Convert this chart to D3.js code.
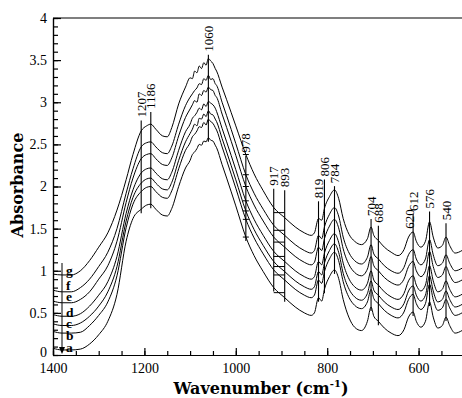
<!DOCTYPE html>
<html><head><meta charset="utf-8">
<script src="https://cdn.jsdelivr.net/npm/d3@7"></script>
<style>
html,body{margin:0;padding:0;background:#fff;}
svg{display:block;}
</style></head>
<body>
<svg id="chart" width="462" height="398"></svg>
<script>
// ---- data ----
const wavenumbers = [1400,1380,1360,1340,1320,1300,1280,1260,1240,1225,1207,1195,1186,1175,1160,1150,1140,1125,
  1110,1100,1095,1090,1085,1080,1075,1070,1065,1060,1055,1050,1045,1042,
  1030,1020,1000,978,960,940,917,893,870,850,835,828,819,812,806,795,784,775,765,752,740,725,712,704,698,688,675,660,645,632,622,612,605,595,585,576,568,558,548,540,532,520,505];
const seriesNames = ["a","b","c","d","e","f","g"];
const seriesA = [.08,.06,.06,.07,.13,.24,.40,.72,1.35,1.62,1.73,1.78,1.79,1.73,1.66,1.65,1.74,2.00,
  2.22,2.31,2.38,2.41,2.45,2.50,2.49,2.54,2.53,2.58,2.55,2.54,2.49,2.46,
  2.26,2.10,1.77,1.40,1.18,.99,.80,.68,.57,.50,.47,.50,.68,.64,.78,.93,1.01,.91,.66,.44,.33,.29,.40,.57,.46,.40,.32,.26,.23,.30,.45,.51,.40,.33,.40,.63,.45,.32,.35,.45,.35,.26,.29];
const seriesB = [.28,.26,.26,.27,.35,.47,.63,.94,1.51,1.79,1.94,1.99,2.00,1.94,1.87,1.86,1.95,2.21,
  2.43,2.52,2.59,2.62,2.66,2.71,2.70,2.76,2.73,2.80,2.77,2.75,2.70,2.67,
  2.47,2.31,1.98,1.61,1.39,1.20,1.01,.89,.78,.71,.68,.71,.89,.85,.99,1.14,1.22,1.12,.87,.68,.59,.55,.63,.78,.67,.61,.53,.47,.44,.51,.66,.72,.61,.54,.61,.84,.66,.53,.56,.66,.56,.47,.50];
const seriesC = [.37,.35,.35,.38,.46,.58,.75,1.05,1.59,1.87,2.04,2.09,2.10,2.04,1.97,1.96,2.05,2.31,
  2.53,2.63,2.68,2.74,2.72,2.81,2.80,2.86,2.83,2.90,2.86,2.85,2.80,2.77,
  2.57,2.41,2.08,1.71,1.49,1.30,1.11,.99,.88,.81,.78,.81,.99,.95,1.09,1.24,1.32,1.22,.97,.78,.69,.65,.73,.88,.77,.71,.63,.57,.54,.61,.76,.82,.71,.64,.71,.94,.76,.63,.66,.76,.66,.57,.60];
const seriesD = [.48,.46,.46,.49,.58,.71,.87,1.17,1.68,1.96,2.16,2.21,2.22,2.16,2.09,2.08,2.17,2.43,
  2.65,2.74,2.81,2.84,2.88,2.93,2.91,2.98,2.95,3.01,2.99,2.97,2.93,2.89,
  2.69,2.53,2.20,1.83,1.61,1.42,1.23,1.11,1.00,.93,.90,.93,1.11,1.07,1.21,1.36,1.44,1.34,1.09,.90,.81,.77,.85,1.00,.89,.83,.75,.69,.66,.73,.88,.94,.83,.76,.83,1.06,.88,.75,.78,.88,.78,.69,.72];
const seriesE = [.64,.62,.62,.66,.75,.90,1.06,1.35,1.81,2.10,2.33,2.38,2.39,2.33,2.26,2.25,2.34,2.60,
  2.82,2.92,2.97,3.02,3.00,3.10,3.08,3.14,3.12,3.18,3.15,3.14,3.08,3.06,
  2.86,2.70,2.37,2.00,1.78,1.59,1.40,1.28,1.17,1.10,1.07,1.10,1.28,1.24,1.38,1.53,1.61,1.51,1.26,1.07,.98,.94,1.02,1.17,1.06,1.00,.92,.86,.83,.90,1.05,1.11,1.00,.93,1.00,1.23,1.05,.92,.95,1.05,.95,.86,.89];
const seriesF = [.77,.75,.75,.80,.90,1.05,1.22,1.50,1.92,2.21,2.47,2.52,2.53,2.47,2.40,2.39,2.48,2.74,
  2.96,3.06,3.10,3.14,3.17,3.22,3.21,3.28,3.26,3.32,3.27,3.28,3.22,3.20,
  3.00,2.84,2.51,2.14,1.92,1.73,1.54,1.42,1.31,1.24,1.21,1.24,1.42,1.38,1.52,1.67,1.75,1.65,1.40,1.21,1.12,1.08,1.16,1.31,1.20,1.14,1.06,1.00,.97,1.04,1.19,1.25,1.14,1.07,1.14,1.37,1.19,1.06,1.09,1.19,1.09,1.00,1.03];
const seriesG = [.96,.95,.95,1.00,1.12,1.28,1.45,1.72,2.08,2.38,2.66,2.72,2.74,2.68,2.60,2.59,2.70,2.98,
  3.18,3.29,3.28,3.37,3.35,3.43,3.40,3.47,3.44,3.52,3.49,3.46,3.40,3.37,
  3.18,3.03,2.72,2.38,2.15,1.95,1.75,1.63,1.52,1.45,1.42,1.45,1.62,1.60,1.74,1.88,1.96,1.86,1.62,1.43,1.35,1.31,1.38,1.52,1.42,1.36,1.28,1.22,1.18,1.25,1.40,1.46,1.35,1.28,1.35,1.58,1.40,1.27,1.30,1.40,1.30,1.21,1.24];
const peakLabels = [1207,1186,1060,978,917,893,819,806,784,704,688,620,612,576,540];
const xTickLabels = [1400,1200,1000,800,600];
const yTickLabels = [0,0.5,1,1.5,2,2.5,3,3.5,4];

// ---- annotation layout ----
const peakLabelLevel = {1207:2.82,1186:2.92,1060:3.60,978:2.40,917:2.01,893:1.99,819:1.86,806:2.12,784:2.04,704:1.65,688:1.57,620:1.50,612:1.71,576:1.74,540:1.60};
const letterBaseline = {a:352,b:340,c:328,d:317,e:301,f:290,g:275};

const allSeries = [seriesA,seriesB,seriesC,seriesD,seriesE,seriesF,seriesG];

const svg = d3.select("#chart");
const L = 53, R = 462, T = 18, B = 355;
const x = d3.scaleLinear().domain([1400, 505]).range([L, R]);
const y = d3.scaleLinear().domain([0, 4]).range([B, T]);

const serif = "'Liberation Serif','Times New Roman',serif";
const serifWide = "'DejaVu Serif',serif";

const xMinor = d3.range(1400, 504, -50);
const yMinor = d3.range(0, 4.001, 0.1).map(v => +v.toFixed(1));

const gx = svg.append("g").attr("transform", `translate(0,${B})`);
gx.call(d3.axisBottom(x).tickValues(xMinor).tickSize(-4).tickSizeOuter(0).tickFormat(""));
gx.append("g").call(d3.axisBottom(x).tickValues(xTickLabels).tickSize(-7).tickSizeOuter(0).tickPadding(8).tickFormat(d3.format("d")));
gx.selectAll("text").attr("font-family", serif).attr("font-size", 14).attr("fill", "#000");
gx.selectAll("path,line").attr("stroke", "#000").attr("stroke-width", 1.2);

const gy = svg.append("g").attr("transform", `translate(${L},0)`);
gy.call(d3.axisLeft(y).tickValues(yMinor).tickSize(-5).tickSizeOuter(0).tickFormat(""));
gy.append("g").call(d3.axisLeft(y).tickValues(yTickLabels).tickSize(-8).tickSizeOuter(0).tickPadding(6).tickFormat(d => String(d)));
gy.selectAll("text").attr("font-family", serif).attr("font-size", 14).attr("fill", "#000");
gy.selectAll("text").filter(d => d === 0).attr("dy", "0.1em");
gy.selectAll("path,line").attr("stroke", "#000").attr("stroke-width", 1.2);

svg.append("line").attr("x1", L).attr("x2", R).attr("y1", y(4)).attr("y2", y(4))
  .attr("stroke", "#000").attr("stroke-width", 1.2);

const line = d3.line().x((d, i) => x(wavenumbers[i])).y(d => y(d)).curve(d3.curveMonotoneX);
svg.append("g").selectAll("path").data(allSeries).join("path")
  .attr("d", line).attr("fill", "none").attr("stroke", "#000").attr("stroke-width", 1);

function valueAt(series, w) {
  for (let i = 0; i < wavenumbers.length - 1; i++) {
    const w0 = wavenumbers[i], w1 = wavenumbers[i + 1];
    if (w <= w0 && w >= w1) {
      const t = (w0 - w) / (w0 - w1);
      return series[i] + t * (series[i + 1] - series[i]);
    }
  }
  return series[series.length - 1];
}

const gp = svg.append("g");
peakLabels.forEach(w => {
  const lvl = peakLabelLevel[w];
  const bottom = valueAt(seriesA, w);
  if (w !== 620) {
    gp.append("line").attr("x1", x(w)).attr("x2", x(w))
      .attr("y1", y(lvl) + 3).attr("y2", y(bottom) + 4)
      .attr("stroke", "#000").attr("stroke-width", 1.1);
  }
  gp.append("text")
    .attr("transform", `translate(${x(w)},${y(lvl)}) rotate(-90)`)
    .attr("dy", "0.35em")
    .attr("font-family", serif).attr("font-size", 13).attr("fill", "#000")
    .text(w);
});
allSeries.forEach(s => {
  const v = (valueAt(s, 917) + valueAt(s, 893)) / 2;
  gp.append("line").attr("x1", x(917)).attr("x2", x(893)).attr("y1", y(v)).attr("y2", y(v))
    .attr("stroke", "#000").attr("stroke-width", 1);
  const v2 = valueAt(s, 978);
  gp.append("line").attr("x1", x(978) - 3).attr("x2", x(978) + 3).attr("y1", y(v2)).attr("y2", y(v2))
    .attr("stroke", "#000").attr("stroke-width", 1);
});

const gl = svg.append("g");
seriesNames.forEach(n => {
  gl.append("text").attr("x", 66).attr("y", letterBaseline[n])
    .attr("font-family", serif).attr("font-size", 13.5).attr("font-weight", "bold").attr("fill", "#000")
    .text(n);
});
svg.append("line").attr("x1", 62).attr("x2", 62).attr("y1", 263).attr("y2", 350)
  .attr("stroke", "#000").attr("stroke-width", 1);
svg.append("path").attr("d", "M59,347 L65,347 L62,354 Z").attr("fill", "#000");

const xt = svg.append("text").attr("x", 261).attr("y", 394).attr("text-anchor", "middle")
  .attr("font-family", serifWide).attr("font-size", 16).attr("font-weight", "bold").attr("fill", "#000");
xt.append("tspan").text("Wavenumber (cm");
xt.append("tspan").attr("dy", -7).attr("font-size", 10).text("-1");
xt.append("tspan").attr("dy", 7).text(")");
svg.append("text").attr("transform", "translate(23,185) rotate(-90)").attr("text-anchor", "middle")
  .attr("font-family", serifWide).attr("font-size", 16).attr("font-weight", "bold").attr("fill", "#000")
  .text("Absorbance");
</script>
</body></html>
